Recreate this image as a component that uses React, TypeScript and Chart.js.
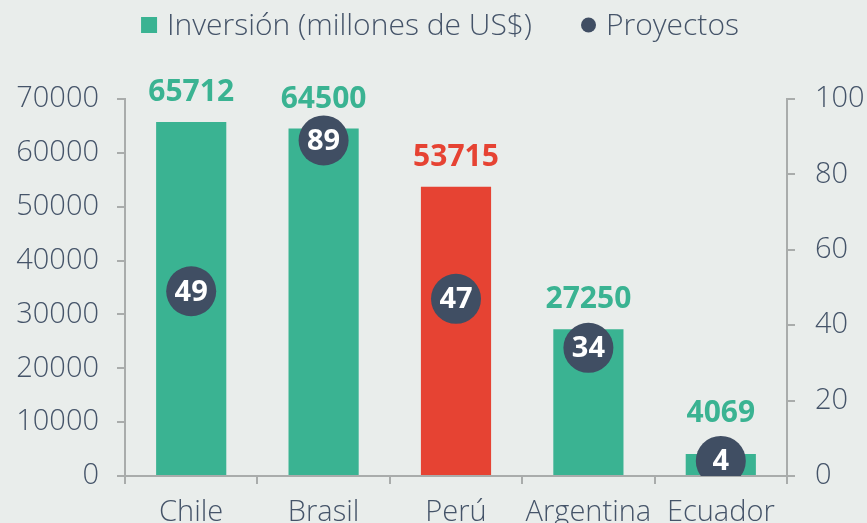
import React, { useEffect, useRef } from "react";
import { Chart, registerables } from "chart.js";

Chart.register(...registerables);

const categories = ["Chile", "Brasil", "Perú", "Argentina", "Ecuador"];
const inversion = [65712, 64500, 53715, 27250, 4069];
const proyectos = [49, 89, 47, 34, 4];
const leftTicks = [0, 10000, 20000, 30000, 40000, 50000, 60000, 70000];
const rightTicks = [0, 20, 40, 60, 80, 100];
const seriesNames = ["Inversión (millones de US$)", "Proyectos"];
const highlight = "Perú";

const GREEN = "#3ab392";
const RED = "#e64333";
const DARK = "#404e63";
const TEXT = "#455469";
const AXIS = "#a9acab";
const BG = "#e9edeb";
const FONT = "'Open Sans', 'DejaVu Sans', sans-serif";

const labelPlugin = {
  id: "valueLabels",
  afterDatasetsDraw(chart: any) {
    const ctx = chart.ctx;
    const bottom = chart.chartArea.bottom;
    const barMeta = chart.getDatasetMeta(0);
    const ptMeta = chart.getDatasetMeta(1);
    ctx.save();
    ctx.textAlign = "center";
    ctx.textBaseline = "alphabetic";
    ctx.font = `bold 30px ${FONT}`;
    barMeta.data.forEach((bar: any, i: number) => {
      ctx.fillStyle = categories[i] === highlight ? RED : GREEN;
      const y = Math.min(bar.y - 21, bottom - 54);
      ctx.fillText(String(inversion[i]), bar.x, y);
    });
    ctx.textBaseline = "middle";
    ctx.font = `bold 29px ${FONT}`;
    ctx.fillStyle = "#ffffff";
    ptMeta.data.forEach((pt: any, i: number) => {
      ctx.fillText(String(proyectos[i]), pt.x, pt.y + 1);
    });
    ctx.restore();
  },
};

const legendPlugin = {
  id: "customLegend",
  afterDraw(chart: any) {
    const ctx = chart.ctx;
    ctx.save();
    ctx.font = `300 30px ${FONT}`;
    ctx.textBaseline = "alphabetic";
    ctx.textAlign = "left";
    const w1 = ctx.measureText(seriesNames[0]).width;
    const w2 = ctx.measureText(seriesNames[1]).width;
    const total = 16 + 10 + w1 + 49 + 15 + 10 + w2;
    let x = 440 - total / 2;
    const baseline = 35;
    const cy = 25;
    ctx.fillStyle = GREEN;
    ctx.fillRect(x, cy - 8, 16, 16);
    x += 26;
    ctx.fillStyle = TEXT;
    ctx.fillText(seriesNames[0], x, baseline);
    x += w1 + 49;
    ctx.fillStyle = DARK;
    ctx.beginPath();
    ctx.arc(x + 7.5, cy, 7.5, 0, Math.PI * 2);
    ctx.fill();
    x += 25;
    ctx.fillStyle = TEXT;
    ctx.fillText(seriesNames[1], x, baseline);
    ctx.restore();
  },
};

export default function App() {
  const ref = useRef<HTMLCanvasElement>(null);
  useEffect(() => {
    const tickFont = { family: FONT, size: 29, weight: "300" as any };
    const chart = new Chart(ref.current!, {
      type: "bar",
      data: {
        labels: categories,
        datasets: [
          {
            type: "bar",
            label: seriesNames[0],
            data: inversion,
            backgroundColor: categories.map((c) => (c === highlight ? RED : GREEN)),
            yAxisID: "y",
            order: 1,
            barPercentage: 0.53,
            categoryPercentage: 1,
          },
          {
            type: "line",
            label: seriesNames[1],
            data: proyectos,
            yAxisID: "y1",
            showLine: false,
            pointRadius: 25,
            pointHoverRadius: 25,
            pointBackgroundColor: DARK,
            pointBorderWidth: 0,
            backgroundColor: DARK,
            borderColor: DARK,
            order: 0,
          } as any,
        ],
      },
      options: {
        responsive: false,
        animation: false,
        layout: { padding: { top: 99, left: 0, right: 0, bottom: 0 } },
        plugins: {
          tooltip: { enabled: false },
          legend: { display: false },
        },
        scales: {
          x: {
            offset: true,
            grid: { drawOnChartArea: false, tickLength: 8, color: AXIS, lineWidth: 2, offset: true },
            border: { color: AXIS, width: 2 },
            ticks: { color: TEXT, font: tickFont, padding: 11 },
            afterFit: (s: any) => {
              s.height = 47;
            },
          },
          y: {
            position: "left",
            min: 0,
            max: 70000,
            afterBuildTicks: (s: any) => {
              s.ticks = leftTicks.map((v) => ({ value: v }));
            },
            grid: { drawOnChartArea: false, tickLength: 8, color: AXIS, lineWidth: 2 },
            border: { color: AXIS, width: 2 },
            ticks: { color: TEXT, font: tickFont, padding: 18, callback: (v: any) => String(v) },
            afterFit: (s: any) => {
              s.width = 125;
            },
          },
          y1: {
            position: "right",
            min: 0,
            max: 100,
            afterBuildTicks: (s: any) => {
              s.ticks = rightTicks.map((v) => ({ value: v }));
            },
            grid: { drawOnChartArea: false, tickLength: 8, color: AXIS, lineWidth: 2 },
            border: { color: AXIS, width: 2 },
            ticks: { color: TEXT, font: tickFont, padding: 20, callback: (v: any) => String(v) },
            afterFit: (s: any) => {
              s.width = 80;
            },
          },
        },
      },
      plugins: [labelPlugin, legendPlugin],
    });
    return () => chart.destroy();
  }, []);
  return (
    <div style={{ position: "fixed", left: 0, top: 0, width: 867, height: 523, background: BG }}>
      <canvas ref={ref} width={867} height={523} style={{ display: "block" }} />
    </div>
  );
}
